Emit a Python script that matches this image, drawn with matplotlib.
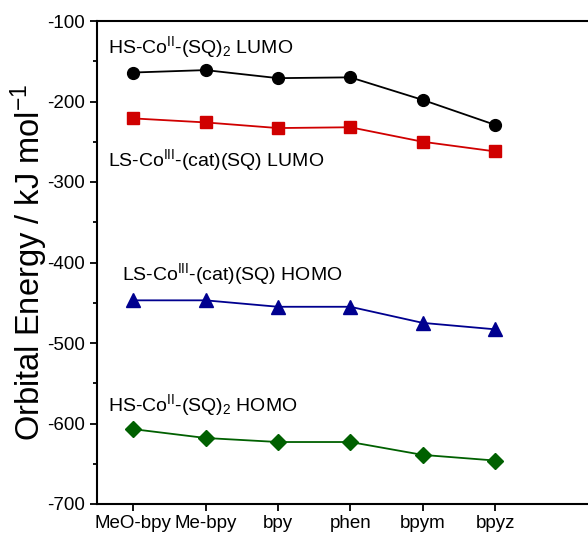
import matplotlib
matplotlib.use("Agg")
import matplotlib.pyplot as plt
from matplotlib.ticker import MultipleLocator

plt.rcParams["font.family"] = ["Liberation Sans", "DejaVu Sans"]
plt.rcParams["mathtext.fontset"] = "custom"
plt.rcParams["mathtext.rm"] = "Liberation Sans"
plt.rcParams["mathtext.it"] = "Liberation Sans:italic"
plt.rcParams["axes.unicode_minus"] = False

ligands = ["MeO-bpy", "Me-bpy", "bpy", "phen", "bpym", "bpyz"]
hs_lumo = [-164, -161, -171, -170, -198, -229]
ls_lumo = [-221, -226, -233, -232, -250, -262]
ls_homo = [-447, -447, -455, -455, -475, -483]
hs_homo = [-607, -618, -623, -623, -639, -646]

x = list(range(len(ligands)))

# axes run a little past the right edge of the figure (cropped like the original)
fig = plt.figure(figsize=(5.88, 5.38), dpi=100)
ax = fig.add_axes([97 / 588, 1 - 504 / 538, (612 - 97) / 588, (504 - 21) / 538])

ax.plot(x, hs_lumo, "-o", color="black", ms=8.5, lw=1.3)
ax.plot(x, ls_lumo, "-s", color="#D00000", ms=8, lw=1.3)
ax.plot(x, ls_homo, "-^", color="#00008F", ms=9.5, lw=1.3)
ax.plot(x, hs_homo, "-D", color="#006000", ms=8, lw=1.3)

lbl = dict(fontsize=14, va="baseline", ha="left")
ax.text(-0.345, -140, r"HS-Co$^{\mathregular{II}}$-(SQ)$_{\mathregular{2}}$ LUMO", **lbl)
ax.text(-0.345, -280, r"LS-Co$^{\mathregular{III}}$-(cat)(SQ) LUMO", **lbl)
ax.text(-0.15, -422, r"LS-Co$^{\mathregular{III}}$-(cat)(SQ) HOMO", **lbl)
ax.text(-0.345, -585, r"HS-Co$^{\mathregular{II}}$-(SQ)$_{\mathregular{2}}$ HOMO", **lbl)

ax.set_xlim(-0.5, (612 - 133) / 72.4)
ax.set_ylim(-700, -100)
ax.set_xticks(x)
ax.set_xticklabels(ligands)
ax.yaxis.set_major_locator(MultipleLocator(100))
ax.yaxis.set_minor_locator(MultipleLocator(50))
ax.tick_params(axis="both", which="major", direction="out", length=5, width=1.3, labelsize=13.5)
ax.tick_params(axis="y", which="minor", direction="out", length=3, width=1.3)
ax.tick_params(axis="x", pad=3)
ax.set_ylabel(r"Orbital Energy / kJ mol$^{\mathregular{-1}}$", fontsize=23.5)
ax.yaxis.set_label_coords(-0.0913, 0.5)

for side in ["left", "bottom", "top"]:
    ax.spines[side].set_linewidth(1.5)
ax.spines["right"].set_visible(False)

fig.savefig("out.png", dpi=100)
